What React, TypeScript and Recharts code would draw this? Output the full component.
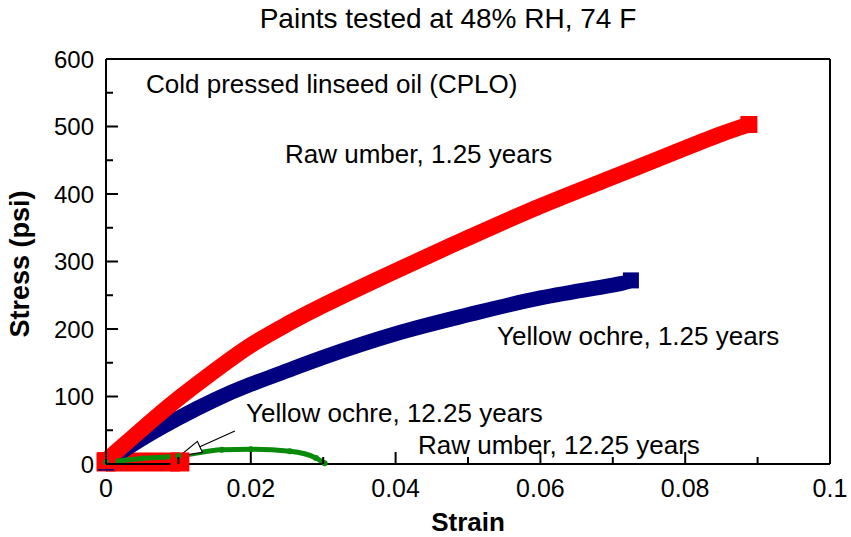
import React from 'react';
import { LineChart, Line, XAxis, YAxis, ReferenceLine } from 'recharts';

// strain / stress readings (psi) for each paint film
const rawUmber125Strain = [0, 0.005, 0.01, 0.015, 0.02, 0.025, 0.03, 0.04, 0.05, 0.06, 0.07, 0.08, 0.085, 0.0888];
const rawUmber125Stress = [5, 52, 97, 138, 176, 207, 235, 286, 335, 382, 425, 468, 489, 503];

const ochre125Strain = [0, 0.003, 0.006, 0.01, 0.015, 0.02, 0.025, 0.03, 0.04, 0.05, 0.06, 0.07, 0.0725];
const ochre125Stress = [2, 24, 44, 68, 95, 118, 138, 158, 193, 221, 246, 265, 272];

const ochre1225Strain = [0, 0.005, 0.01, 0.016, 0.02, 0.0254, 0.029, 0.0302];
const ochre1225Stress = [3, 8, 12, 21, 22, 19, 9, 1];

const rawUmber1225Strain = [0, 0.004, 0.008, 0.0102];
const rawUmber1225Stress = [3, 3, 3, 3];

const xTicks = [0, 0.01, 0.02, 0.03, 0.04, 0.05, 0.06, 0.07, 0.08, 0.09, 0.1];
const xLabels: Record<string, string> = { '0': '0', '0.02': '0.02', '0.04': '0.04', '0.06': '0.06', '0.08': '0.08', '0.1': '0.1' };
const yTicks = [0, 50, 100, 150, 200, 250, 300, 350, 400, 450, 500, 550, 600];

// arrow from "Yellow ochre, 12.25 years" label down to its curve
const arrowTip = { x: 0.0102, y: 12 };
const arrowTail = { x: 0.0178, y: 49 };

const toPoints = (xs: number[], ys: number[]) => xs.map((x, i) => ({ x, y: ys[i] }));

const FONT = '"Liberation Sans", Arial, sans-serif';
const W = 851;
const H = 537;

// square marker only at the two ends of a band
const EndSquare = (color: string, size: number, count: number) => (props: any) => {
  const { cx, cy, index } = props;
  if (cx == null || cy == null || (index !== 0 && index !== count - 1)) return <g key={index} />;
  return <rect key={index} x={cx - size / 2} y={cy - size / 2} width={size} height={size} fill={color} />;
};

const RoundDot = (color: string, r: number) => (props: any) => {
  const { cx, cy, index } = props;
  if (cx == null || cy == null) return <g key={index} />;
  return <circle key={index} cx={cx} cy={cy} r={r} fill={color} />;
};

const YTick = (props: any) => {
  const { x, y, payload } = props;
  const axisX = x + 6;
  const major = payload.value % 100 === 0;
  return (
    <g>
      <line x1={axisX} x2={axisX + (major ? 12 : 7)} y1={y} y2={y} stroke="#000" strokeWidth={2} />
      {major && (
        <text x={axisX - 12} y={y} dy="0.36em" textAnchor="end" fontSize={24} fontFamily={FONT} fill="#000">
          {payload.value}
        </text>
      )}
    </g>
  );
};

const XTick = (props: any) => {
  const { x, y, payload } = props;
  const axisY = y - 6;
  const key = String(+payload.value.toFixed(2));
  const label = xLabels[key];
  return (
    <g>
      <line x1={x} x2={x} y1={axisY} y2={axisY - (label ? 12 : 7)} stroke="#000" strokeWidth={2} />
      {label && (
        <text x={x} y={axisY + 33} textAnchor="middle" fontSize={25} fontFamily={FONT} fill="#000">
          {label}
        </text>
      )}
    </g>
  );
};

const ArrowShape = (props: any) => {
  const { x1, y1, x2, y2 } = props;
  if ([x1, y1, x2, y2].some((v) => v == null)) return null;
  const dx = x2 - x1;
  const dy = y2 - y1;
  const len = Math.sqrt(dx * dx + dy * dy);
  const ux = dx / len;
  const uy = dy / len;
  const hl = 22;
  const hw = 6;
  const bx = x1 + ux * hl;
  const by = y1 + uy * hl;
  const pts = `${x1},${y1} ${bx - uy * hw},${by + ux * hw} ${bx + uy * hw},${by - ux * hw}`;
  return (
    <g>
      <line x1={bx} y1={by} x2={x2} y2={y2} stroke="#000" strokeWidth={1.2} />
      <line x1={x1} y1={y1} x2={bx} y2={by} stroke="#000" strokeWidth={1.2} />
      <polygon points={pts} fill="#fff" stroke="#000" strokeWidth={1.2} />
    </g>
  );
};

export default function App() {
  return (
    <div style={{ position: 'absolute', left: 0, top: 0, width: W, height: H, background: '#fff' }}>
      <LineChart width={W} height={H} margin={{ top: 59, right: 21, bottom: 0, left: 0 }}>
        <XAxis
          type="number"
          dataKey="x"
          domain={[0, 0.1]}
          ticks={xTicks}
          interval={0}
          height={73}
          tickSize={0}
          tickMargin={6}
          tickLine={false}
          axisLine={{ stroke: '#000', strokeWidth: 2 }}
          tick={<XTick />}
        />
        <YAxis
          type="number"
          dataKey="y"
          domain={[0, 600]}
          ticks={yTicks}
          interval={0}
          width={106}
          tickSize={0}
          tickMargin={6}
          tickLine={false}
          axisLine={{ stroke: '#000', strokeWidth: 2 }}
          tick={<YTick />}
        />
        <ReferenceLine y={600} stroke="#000" strokeWidth={2} />
        <ReferenceLine x={0.1} stroke="#000" strokeWidth={2} />
        <Line
          data={toPoints(rawUmber1225Strain, rawUmber1225Stress)}
          dataKey="y"
          stroke="#ff0000"
          strokeWidth={19}
          dot={EndSquare('#ff0000', 19, rawUmber1225Strain.length)}
          activeDot={false}
          isAnimationActive={false}
        />
        <Line
          type="natural"
          data={toPoints(ochre125Strain, ochre125Stress)}
          dataKey="y"
          stroke="#000080"
          strokeWidth={15}
          dot={EndSquare('#000080', 16, ochre125Strain.length)}
          activeDot={false}
          isAnimationActive={false}
        />
        <Line
          type="natural"
          data={toPoints(rawUmber125Strain, rawUmber125Stress)}
          dataKey="y"
          stroke="#ff0000"
          strokeWidth={16}
          dot={EndSquare('#ff0000', 17, rawUmber125Strain.length)}
          activeDot={false}
          isAnimationActive={false}
        />
        <Line
          type="monotone"
          data={toPoints(ochre1225Strain, ochre1225Stress)}
          dataKey="y"
          stroke="#0a8a0a"
          strokeWidth={5}
          dot={RoundDot('#0a8a0a', 3)}
          activeDot={false}
          isAnimationActive={false}
        />
        <ReferenceLine segment={[arrowTip, arrowTail]} shape={<ArrowShape />} ifOverflow="visible" />
      </LineChart>
      <svg width={W} height={H} style={{ position: 'absolute', left: 0, top: 0, pointerEvents: 'none' }}>
        <g fontFamily={FONT} fill="#000">
          <text x={448} y={28} textAnchor="middle" fontSize={28}>Paints tested at 48% RH, 74 F</text>
          <text x={146} y={93} fontSize={26}>Cold pressed linseed oil (CPLO)</text>
          <text x={285} y={163} fontSize={26}>Raw umber, 1.25 years</text>
          <text x={497} y={345} fontSize={26}>Yellow ochre, 1.25 years</text>
          <text x={246} y={422} fontSize={26}>Yellow ochre, 12.25 years</text>
          <text x={418} y={454} fontSize={26}>Raw umber, 12.25 years</text>
          <text x={468} y={531} textAnchor="middle" fontSize={26} fontWeight="bold">Strain</text>
          <text x={29} y={264} textAnchor="middle" fontSize={27} fontWeight="bold" transform="rotate(-90 29 264)">
            Stress (psi)
          </text>
        </g>
      </svg>
    </div>
  );
}
